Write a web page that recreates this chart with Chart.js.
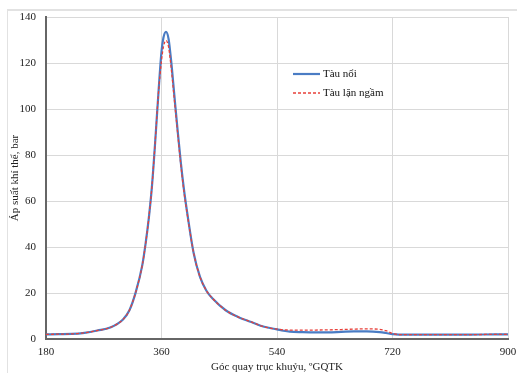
<!DOCTYPE html>
<html>
<head>
<meta charset="utf-8">
<script src="https://cdn.jsdelivr.net/npm/chart.js@4/dist/chart.umd.min.js"></script>
<style>
  body { margin: 0; background: #fff; }
  #wrap { position: relative; width: 517px; height: 373px; overflow: hidden; }
  #frame { position: absolute; left: 7px; top: 9px; width: 600px; height: 500px;
           border-top: 2px solid #e2e2e2; border-left: 1px solid #e2e2e2; }
  #pressureChart { position: absolute; left: 0; top: 0; }
</style>
</head>
<body>
<div id="wrap">
  <div id="frame"></div>
  <canvas id="pressureChart" width="517" height="373"></canvas>
</div>
<script>
// Crank angle, degrees
const angles = [180, 200, 220, 240, 260, 280, 300, 310, 320, 330, 335, 340, 345, 350, 355,
    360, 363, 367, 371, 375, 380, 385, 390, 395, 400, 410, 420, 430, 440, 460, 480, 500,
    520, 540, 550, 560, 580, 600, 620, 640, 660, 680, 700, 710, 720, 730, 760, 800, 840, 880, 900];

// Tàu nổi (surface)
const surfacePressure = [2.0, 2.1, 2.2, 2.7, 3.7, 5.0, 8.5, 12.5, 20.5, 32, 41, 52, 66, 85, 106,
    125, 131, 133.5, 130.5, 121, 106, 91, 77, 65, 55, 37.5, 27, 21, 17.5, 12.5, 9.5, 7.4,
    5.3, 4.2, 3.6, 3.2, 3.0, 2.9, 2.9, 3.1, 3.3, 3.3, 3.0, 2.6, 2.1, 1.9, 1.9, 1.9, 1.9, 2.0, 2.0];

// Tàu lặn ngầm (submerged)
const submergedPressure = [2.0, 2.1, 2.2, 2.7, 3.7, 5.0, 8.5, 12.5, 20.5, 32, 41, 52, 66, 85, 106,
    121, 127, 129.8, 127, 118, 104, 90, 76, 64, 54.5, 37.5, 27, 21, 17.5, 12.5, 9.5, 7.4,
    5.3, 4.3, 4.0, 3.9, 3.9, 3.9, 4.0, 4.1, 4.3, 4.4, 4.2, 3.6, 2.4, 1.9, 1.9, 1.9, 1.9, 2.0, 2.0];

const xTicks = [180, 360, 540, 720, 900];
const yTicks = [0, 20, 40, 60, 80, 100, 120, 140];

const serif = "'Liberation Serif', 'Times New Roman', serif";

function toPoints(ys) {
    return angles.map((a, i) => ({ x: a, y: ys[i] }));
}

// Legend drawn inside the plot area
const innerLegend = {
    id: 'innerLegend',
    afterDraw(chart) {
        const ctx = chart.ctx;
        const area = chart.chartArea;
        const x0 = area.left + 247;
        let y = area.top + 57;
        ctx.save();
        chart.data.datasets.forEach(ds => {
            ctx.beginPath();
            ctx.strokeStyle = ds.borderColor;
            ctx.lineWidth = ds.borderWidth;
            ctx.setLineDash(ds.borderDash || []);
            ctx.moveTo(x0, y);
            ctx.lineTo(x0 + 27, y);
            ctx.stroke();
            ctx.setLineDash([]);
            ctx.fillStyle = '#111';
            ctx.font = '11px ' + serif;
            ctx.textBaseline = 'middle';
            ctx.fillText(ds.label, x0 + 30, y);
            y += 19;
        });
        ctx.restore();
    }
};

document.addEventListener('DOMContentLoaded', function() {
    const ctx = document.getElementById('pressureChart').getContext('2d');
    new Chart(ctx, {
        type: 'line',
        data: {
            datasets: [{
                label: 'Tàu nổi',
                data: toPoints(surfacePressure),
                borderColor: '#4a7cc4',
                borderWidth: 2.2,
                pointRadius: 0,
                order: 1,
                cubicInterpolationMode: 'monotone'
            }, {
                label: 'Tàu lặn ngầm',
                data: toPoints(submergedPressure),
                borderColor: '#e8403a',
                borderWidth: 1.3,
                borderDash: [3, 2],
                pointRadius: 0,
                order: 0,
                cubicInterpolationMode: 'monotone'
            }]
        },
        options: {
            responsive: false,
            animation: false,
            layout: { padding: { left: 0, right: 9, top: 17, bottom: 0 } },
            plugins: {
                legend: { display: false },
                tooltip: { enabled: false }
            },
            scales: {
                x: {
                    type: 'linear',
                    min: 180,
                    max: 900,
                    afterBuildTicks: axis => { axis.ticks = xTicks.map(v => ({ value: v })); },
                    afterFit: scale => {
                        scale.height = 34;
                        scale.paddingLeft = 0;
                        scale.paddingRight = 0;
                    },
                    grid: { color: '#d9d9d9', lineWidth: 1, drawTicks: false },
                    border: { color: '#666', width: 2 },
                    ticks: { padding: 7, color: '#222', font: { family: serif, size: 11 } },
                    title: {
                        display: true,
                        text: 'Góc quay trục khuỷu, ºGQTK',
                        color: '#222',
                        font: { family: serif, size: 11, lineHeight: 1 },
                        padding: { top: 0, bottom: 0 }
                    }
                },
                y: {
                    min: 0,
                    max: 140,
                    afterBuildTicks: axis => { axis.ticks = yTicks.map(v => ({ value: v })); },
                    afterFit: scale => {
                        scale.width = 46;
                        scale.paddingTop = 0;
                        scale.paddingBottom = 0;
                    },
                    grid: { color: '#d9d9d9', lineWidth: 1, drawTicks: false },
                    border: { color: '#666', width: 2 },
                    ticks: { padding: 10, color: '#222', font: { family: serif, size: 11 } },
                    title: {
                        display: true,
                        text: 'Áp suất khí thể, bar',
                        color: '#222',
                        font: { family: serif, size: 11, lineHeight: 1 },
                        padding: { top: 10, bottom: 0 }
                    }
                }
            }
        },
        plugins: [innerLegend]
    });
});
</script>
</body>
</html>
